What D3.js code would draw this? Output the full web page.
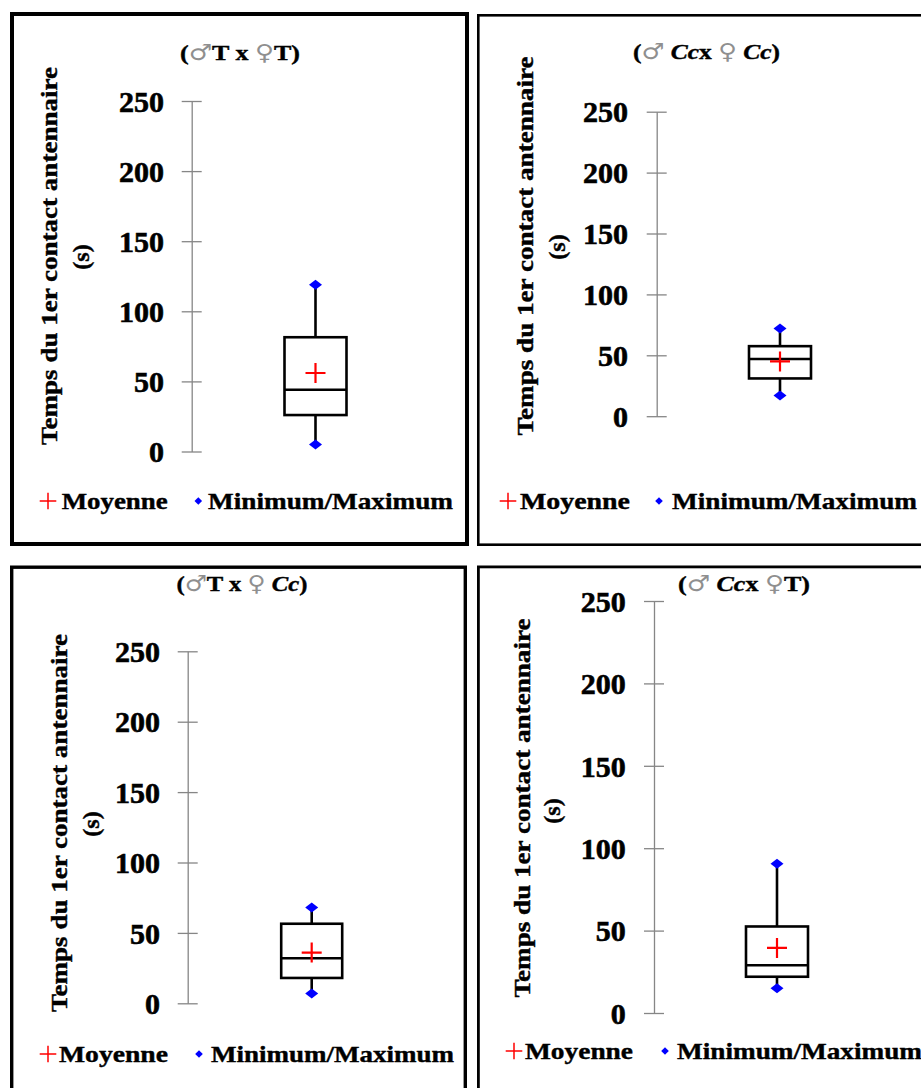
<!DOCTYPE html>
<html>
<head>
<meta charset="utf-8">
<script src="https://cdn.jsdelivr.net/npm/d3@7"></script>
<style>
  html, body { margin: 0; padding: 0; background: #ffffff; }
  svg { display: block; }
</style>
</head>
<body>
<script>
// Crosses shown in the four panels (male x female)
const crossMale   = ["T", "Cc", "T", "Cc"];
const crossFemale = ["T", "Cc", "Cc", "T"];

// Box-plot statistics, time to first antennal contact (s)
const minValues    = [5, 17, 7, 15];
const q1Values     = [26, 31, 18, 22];
const medianValues = [44, 47, 32, 29];
const q3Values     = [81.5, 57.5, 56.5, 52.5];
const maxValues    = [119, 72, 68, 90.5];
const meanValues   = [56, 45, 36, 39.5];

// Axis and labels
const yDomain = [0, 250];
const yTicks = [0, 50, 100, 150, 200, 250];
const yLabelLines = ["Temps du 1er contact antennaire", "(s)"];
const legendLabels = ["Moyenne", "Minimum/Maximum"];

// Panel geometry
const panels = [
  { frame: [10, 12, 469, 546], fw: 4, axisX: 191.7, yBottom: 451.5, yTop: 101, labelRight: 164,
    titleX: 240, titleY: 59.5, titleW: 120, boxX: 315.5, boxW: 62,
    ylabX: 56.7, ylabY: 256, ylabLen: 378, sX: 88.5, sY: 257,
    legY: 501, plusX: 48, moyX: 61.7, moyW: 106, diaX: 198.3, mmX: 208, mmW: 245 },
  { frame: [477, 14, 940, 546], fw: 2.6, axisX: 656.7, yBottom: 416.2, yTop: 111.7, labelRight: 628,
    titleX: 706.5, titleY: 59, titleW: 147, boxX: 780, boxW: 62,
    ylabX: 532.5, ylabY: 246, ylabLen: 379, sX: 564.5, sY: 247,
    legY: 501, plusX: 508, moyX: 520, moyW: 110, diaX: 659, mmX: 672, mmW: 245 },
  { frame: [10, 565.5, 467, 1110], fw: 3.4, axisX: 187.7, yBottom: 1003.3, yTop: 651.3, labelRight: 160,
    titleX: 242, titleY: 591, titleW: 131, boxX: 311.7, boxW: 61,
    ylabX: 66.7, ylabY: 823, ylabLen: 378, sX: 98.5, sY: 824,
    legY: 1054, plusX: 48, moyX: 59, moyW: 109, diaX: 199, mmX: 211, mmW: 243 },
  { frame: [477, 565.5, 940, 1110], fw: 2.8, axisX: 654, yBottom: 1013, yTop: 601, labelRight: 625.7,
    titleX: 744, titleY: 591, titleW: 132, boxX: 777, boxW: 62,
    ylabX: 529.5, ylabY: 808, ylabLen: 379, sX: 559.5, sY: 811,
    legY: 1051, plusX: 514, moyX: 525, moyW: 108, diaX: 665, mmX: 677, mmW: 245 }
];

const SERIF = "'Liberation Serif', 'Times New Roman', Times, serif";
const AXIS_GREY = "#868686";
const SYMBOL_GREY = "#8f8f8f";

// Wide, flat diamond marker and plus marker as custom d3 symbol types
const flatDiamond = (hw, hh) => ({
  draw(ctx) {
    ctx.moveTo(0, -hh); ctx.lineTo(hw, 0); ctx.lineTo(0, hh); ctx.lineTo(-hw, 0); ctx.closePath();
  }
});
const plusMark = (h) => ({
  draw(ctx) {
    ctx.moveTo(-h, 0); ctx.lineTo(h, 0); ctx.moveTo(0, -h); ctx.lineTo(0, h);
  }
});

// Heavy bold text: bold face plus a hairline outline
const heavy = (sel, sw) => sel
  .attr("font-family", SERIF).attr("font-weight", "bold")
  .attr("fill", "#000").attr("stroke", "#000").attr("stroke-width", sw)
  .attr("paint-order", "stroke");

const svg = d3.select("body").append("svg")
  .attr("width", 921).attr("height", 1088);
svg.append("rect").attr("width", 921).attr("height", 1088).attr("fill", "#ffffff");

panels.forEach((p, i) => {
  const g = svg.append("g");

  // Panel frame
  const [x0, y0, x1, y1] = p.frame;
  g.append("rect")
    .attr("x", x0 + p.fw / 2).attr("y", y0 + p.fw / 2)
    .attr("width", x1 - x0 - p.fw).attr("height", y1 - y0 - p.fw)
    .attr("fill", "none").attr("stroke", "#000").attr("stroke-width", p.fw);

  // Title: (♂X x ♀Y)
  const isItalic = s => s === "Cc";
  const title = g.append("text")
    .attr("x", p.titleX).attr("y", p.titleY)
    .attr("text-anchor", "middle").attr("font-size", 22)
    .attr("textLength", p.titleW).attr("lengthAdjust", "spacingAndGlyphs");
  heavy(title, 0.4);
  const sym = (s) => title.append("tspan").text(s)
    .attr("font-family", "'DejaVu Sans', sans-serif").attr("font-weight", "normal")
    .attr("font-size", 22).attr("fill", SYMBOL_GREY).attr("stroke", "none");
  title.append("tspan").text("(");
  sym("\u2642");
  title.append("tspan").text((isItalic(crossMale[i]) ? " " : "") + crossMale[i])
    .attr("font-style", isItalic(crossMale[i]) ? "italic" : "normal");
  title.append("tspan").text(isItalic(crossMale[i]) ? "x " : " x ");
  sym("\u2640");
  title.append("tspan").text((isItalic(crossFemale[i]) ? " " : "") + crossFemale[i])
    .attr("font-style", isItalic(crossFemale[i]) ? "italic" : "normal");
  title.append("tspan").text(")");

  // Y scale and axis
  const y = d3.scaleLinear().domain(yDomain).range([p.yBottom, p.yTop]);
  const axis = d3.axisLeft(y).tickValues(yTicks).tickSize(10).tickSizeOuter(0)
    .tickFormat(d3.format("d"));
  const ag = g.append("g").attr("transform", `translate(${p.axisX},0)`).call(axis)
    .attr("font-family", SERIF).attr("font-size", 30).attr("font-weight", "bold");
  ag.select(".domain").attr("stroke", AXIS_GREY).attr("stroke-width", 1.3);
  ag.selectAll(".tick line").attr("x1", -10).attr("x2", 10)
    .attr("stroke", AXIS_GREY).attr("stroke-width", 1.3);
  heavy(ag.selectAll(".tick text"), 0.6)
    .attr("x", -(p.axisX - p.labelRight)).attr("dy", "0.34em");

  // Y axis title (two lines, rotated)
  heavy(g.append("text"), 0.4)
    .attr("transform", `translate(${p.ylabX},${p.ylabY}) rotate(-90)`)
    .attr("text-anchor", "middle").attr("font-size", 23)
    .attr("textLength", p.ylabLen).attr("lengthAdjust", "spacingAndGlyphs")
    .text(yLabelLines[0]);
  heavy(g.append("text"), 0.4)
    .attr("transform", `translate(${p.sX},${p.sY}) rotate(-90)`)
    .attr("text-anchor", "middle").attr("font-size", 24)
    .text(yLabelLines[1]);

  // Box plot
  const cx = p.boxX, w = p.boxW;
  const box = g.append("g").attr("stroke", "#000").attr("stroke-width", 2.6).attr("fill", "none");
  box.append("line").attr("x1", cx).attr("x2", cx)
    .attr("y1", y(maxValues[i])).attr("y2", y(q3Values[i]));
  box.append("line").attr("x1", cx).attr("x2", cx)
    .attr("y1", y(q1Values[i])).attr("y2", y(minValues[i]));
  box.append("rect").attr("x", cx - w / 2).attr("y", y(q3Values[i]))
    .attr("width", w).attr("height", y(q1Values[i]) - y(q3Values[i]));
  box.append("line").attr("x1", cx - w / 2).attr("x2", cx + w / 2)
    .attr("y1", y(medianValues[i])).attr("y2", y(medianValues[i]));

  // Min / max markers
  const dia = d3.symbol().type(flatDiamond(6.5, 5))();
  [minValues[i], maxValues[i]].forEach(v => {
    g.append("path").attr("d", dia)
      .attr("transform", `translate(${cx},${y(v)})`)
      .attr("fill", "#0000ff");
  });

  // Mean marker
  g.append("path").attr("d", d3.symbol().type(plusMark(10))())
    .attr("transform", `translate(${cx},${y(meanValues[i])})`)
    .attr("fill", "none").attr("stroke", "#ff0000").attr("stroke-width", 2.2);

  // Legend
  g.append("path").attr("d", d3.symbol().type(plusMark(8.3))())
    .attr("transform", `translate(${p.plusX},${p.legY})`)
    .attr("fill", "none").attr("stroke", "#ff0000").attr("stroke-width", 1.5);
  heavy(g.append("text"), 0.4).attr("x", p.moyX).attr("y", p.legY + 7.5)
    .attr("font-size", 24)
    .attr("textLength", p.moyW).attr("lengthAdjust", "spacingAndGlyphs")
    .text(legendLabels[0]);
  g.append("path").attr("d", d3.symbol().type(flatDiamond(3.8, 3.8))())
    .attr("transform", `translate(${p.diaX},${p.legY})`)
    .attr("fill", "#0000ff");
  heavy(g.append("text"), 0.4).attr("x", p.mmX).attr("y", p.legY + 7.5)
    .attr("font-size", 24)
    .attr("textLength", p.mmW).attr("lengthAdjust", "spacingAndGlyphs")
    .text(legendLabels[1]);
});
</script>
</body>
</html>
